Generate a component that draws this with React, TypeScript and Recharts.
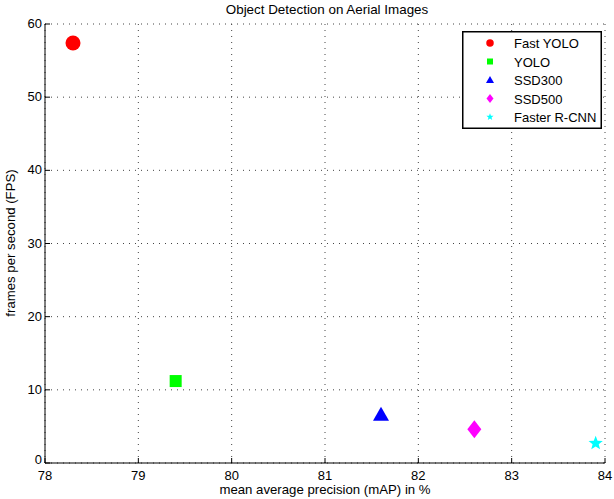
import React from 'react';
import { ScatterChart, Scatter, XAxis, YAxis, CartesianGrid } from 'recharts';

const models = ['Fast YOLO', 'YOLO', 'SSD300', 'SSD500', 'Faster R-CNN'];
const mapValues = [78.3, 79.4, 81.6, 82.6, 83.9];
const fpsValues = [57.4, 11.2, 6.6, 4.6, 2.7];
const colors = ['#ff0000', '#00ff00', '#0000ff', '#ff00ff', '#00ffff'];
const markers = ['circle', 'square', 'triangle', 'diamond', 'star'];
const xTicks = [78, 79, 80, 81, 82, 83, 84];
const yTicks = [0, 10, 20, 30, 40, 50, 60];

const FONT = '"Liberation Sans", Arial, Helvetica, sans-serif';
const PLOT_LEFT = 45;
const PLOT_BOTTOM = 463;

function Marker({ kind, cx, cy, color, s = 1 }: any) {
  switch (kind) {
    case 'circle':
      return <circle cx={cx} cy={cy} r={7.5 * s} fill={color} />;
    case 'square':
      return <rect x={cx - 6 * s} y={cy - 6 * s} width={12 * s} height={12 * s} fill={color} />;
    case 'triangle':
      return (
        <polygon
          points={`${cx},${cy - 8 * s} ${cx + 8 * s},${cy + 6 * s} ${cx - 8 * s},${cy + 6 * s}`}
          fill={color}
        />
      );
    case 'diamond':
      return (
        <polygon
          points={`${cx},${cy - 9 * s} ${cx + 7 * s},${cy} ${cx},${cy + 9 * s} ${cx - 7 * s},${cy}`}
          fill={color}
        />
      );
    default: {
      const pts: string[] = [];
      for (let i = 0; i < 10; i++) {
        const r = (i % 2 === 0 ? 7.5 : 3.2) * s;
        const a = -Math.PI / 2 + (i * Math.PI) / 5;
        pts.push(`${cx + r * Math.cos(a)},${cy + r * Math.sin(a)}`);
      }
      return <polygon points={pts.join(' ')} fill={color} />;
    }
  }
}

const XTick = (props: any) => {
  const { x, payload } = props;
  return (
    <g>
      <line x1={x} x2={x} y1={PLOT_BOTTOM} y2={PLOT_BOTTOM - 5} stroke="#000" />
      <text x={x} y={479.5} textAnchor="middle" fontSize={13} fontFamily={FONT} fill="#000">
        {payload.value}
      </text>
    </g>
  );
};

const YTick = (props: any) => {
  const { y, payload } = props;
  // the 0 label sits a little higher so it clears the 78 below it
  const dy = payload.value === 0 ? 1 : 4;
  return (
    <g>
      <line x1={PLOT_LEFT} x2={PLOT_LEFT + 5} y1={y} y2={y} stroke="#000" />
      <text x={42} y={y + dy} textAnchor="end" fontSize={13} fontFamily={FONT} fill="#000">
        {payload.value}
      </text>
    </g>
  );
};

const LegendBox = () => (
  <g transform="translate(462,31)">
    <rect x={0.75} y={0.75} width={138.5} height={96.5} fill="#fff" stroke="#000" strokeWidth={1.5} />
    {models.map((m, i) => {
      const cy = 12 + i * 18.5;
      return (
        <g key={m}>
          <Marker kind={markers[i]} cx={28} cy={cy} color={colors[i]} s={0.5} />
          <text x={52} y={cy + 5} fontSize={13} fontFamily={FONT} fill="#000">
            {m}
          </text>
        </g>
      );
    })}
  </g>
);

export default function App() {
  return (
    <div style={{ position: 'absolute', left: 0, top: 0, width: 614, height: 499, background: '#fff' }}>
      <ScatterChart width={614} height={499} margin={{ top: 24, right: 9, bottom: 0, left: 0 }}>
        <CartesianGrid stroke="#444" strokeDasharray="1 5" />
        <XAxis
          type="number"
          dataKey="x"
          domain={[78, 84]}
          ticks={xTicks}
          height={36}
          axisLine={{ stroke: '#000' }}
          tickLine={false}
          tick={<XTick />}
          interval={0}
        />
        <YAxis
          type="number"
          dataKey="y"
          domain={[0, 60]}
          ticks={yTicks}
          width={45}
          axisLine={{ stroke: '#000' }}
          tickLine={false}
          tick={<YTick />}
          interval={0}
        />
        {models.map((m, i) => (
          <Scatter
            key={m}
            name={m}
            data={[{ x: mapValues[i], y: fpsValues[i] }]}
            fill={colors[i]}
            isAnimationActive={false}
            shape={(p: any) => <Marker kind={markers[i]} cx={p.cx} cy={p.cy} color={colors[i]} />}
          />
        ))}
        <LegendBox />
        <text x={327} y={14} textAnchor="middle" fontSize={13.4} fontFamily={FONT} fill="#000">
          Object Detection on Aerial Images
        </text>
        <text x={325} y={494} textAnchor="middle" fontSize={13.2} fontFamily={FONT} fill="#000">
          mean average precision (mAP) in %
        </text>
        <text
          x={15}
          y={243}
          textAnchor="middle"
          fontSize={13.2}
          fontFamily={FONT}
          fill="#000"
          transform="rotate(-90 15 243)"
        >
          frames per second (FPS)
        </text>
      </ScatterChart>
    </div>
  );
}
